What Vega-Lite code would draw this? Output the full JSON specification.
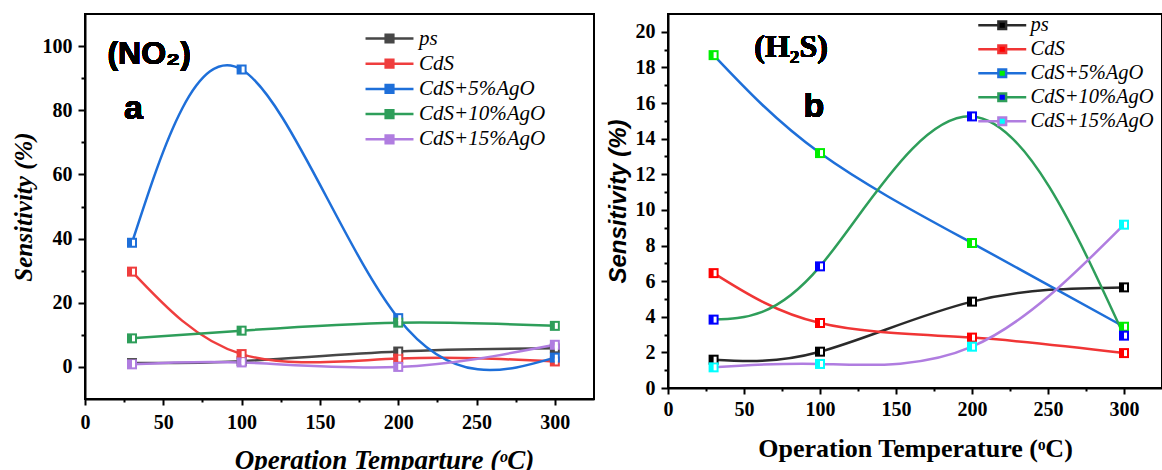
{
  "$schema": "https://vega.github.io/schema/vega-lite/v6.json",
  "background": "white",
  "padding": {"left": 10, "top": 13, "right": 0, "bottom": 0},
  "bounds": "flush",
  "spacing": 74,
  "datasets": {
    "no2": [
      {"temp": 30, "sens": 1.2, "series": "ps"},
      {"temp": 100, "sens": 1.8, "series": "ps"},
      {"temp": 200, "sens": 4.8, "series": "ps"},
      {"temp": 300, "sens": 5.8, "series": "ps"},
      {"temp": 30, "sens": 29.7, "series": "CdS"},
      {"temp": 100, "sens": 4.0, "series": "CdS"},
      {"temp": 200, "sens": 2.6, "series": "CdS"},
      {"temp": 300, "sens": 1.7, "series": "CdS"},
      {"temp": 30, "sens": 38.7, "series": "CdS+5%AgO"},
      {"temp": 100, "sens": 92.7, "series": "CdS+5%AgO"},
      {"temp": 200, "sens": 15.2, "series": "CdS+5%AgO"},
      {"temp": 300, "sens": 2.9, "series": "CdS+5%AgO"},
      {"temp": 30, "sens": 8.9, "series": "CdS+10%AgO"},
      {"temp": 100, "sens": 11.3, "series": "CdS+10%AgO"},
      {"temp": 200, "sens": 13.8, "series": "CdS+10%AgO"},
      {"temp": 300, "sens": 12.8, "series": "CdS+10%AgO"},
      {"temp": 30, "sens": 0.8, "series": "CdS+15%AgO"},
      {"temp": 100, "sens": 1.4, "series": "CdS+15%AgO"},
      {"temp": 200, "sens": 0.0, "series": "CdS+15%AgO"},
      {"temp": 300, "sens": 6.9, "series": "CdS+15%AgO"}
    ],
    "h2s": [
      {"temp": 30, "sens": 1.59, "series": "ps"},
      {"temp": 100, "sens": 2.04, "series": "ps"},
      {"temp": 200, "sens": 4.85, "series": "ps"},
      {"temp": 300, "sens": 5.65, "series": "ps"},
      {"temp": 30, "sens": 6.45, "series": "CdS"},
      {"temp": 100, "sens": 3.65, "series": "CdS"},
      {"temp": 200, "sens": 2.83, "series": "CdS"},
      {"temp": 300, "sens": 1.96, "series": "CdS"},
      {"temp": 30, "sens": 18.69, "series": "CdS+5%AgO"},
      {"temp": 100, "sens": 13.19, "series": "CdS+5%AgO"},
      {"temp": 200, "sens": 8.14, "series": "CdS+5%AgO"},
      {"temp": 300, "sens": 3.44, "series": "CdS+5%AgO"},
      {"temp": 30, "sens": 3.84, "series": "CdS+10%AgO"},
      {"temp": 100, "sens": 6.83, "series": "CdS+10%AgO"},
      {"temp": 200, "sens": 15.25, "series": "CdS+10%AgO"},
      {"temp": 300, "sens": 2.94, "series": "CdS+10%AgO"},
      {"temp": 30, "sens": 1.16, "series": "CdS+15%AgO"},
      {"temp": 100, "sens": 1.35, "series": "CdS+15%AgO"},
      {"temp": 200, "sens": 2.32, "series": "CdS+15%AgO"},
      {"temp": 300, "sens": 9.17, "series": "CdS+15%AgO"}
    ]
  },
  "hconcat": [
    {
      "width": 509,
      "height": 385,
      "data": {"name": "no2"},
      "encoding": {
        "x": {
          "field": "temp", "type": "quantitative",
          "scale": {"domain": [0, 325], "nice": false, "zero": false},
          "axis": {
            "values": [0, 25, 50, 75, 100, 125, 150, 175, 200, 225, 250, 275, 300],
            "labelExpr": "datum.value % 50 === 0 ? datum.label : ''",
            "tickSize": {"condition": {"test": "datum.value % 50 === 0", "value": 6}, "value": 3},
            "labelPadding": 7,
            "labelFlush": false,
            "labelOverlap": false,
            "title": "Operation Temparture (ᵒC)",
            "titleFontStyle": "italic",
            "titleFontSize": 27,
            "titlePadding": 15,
            "titleX": 299
          }
        },
        "y": {
          "field": "sens", "type": "quantitative",
          "scale": {"domain": [-10, 110], "nice": false, "zero": false},
          "axis": {
            "values": [0, 10, 20, 30, 40, 50, 60, 70, 80, 90, 100],
            "labelExpr": "datum.value % 20 === 0 ? datum.label : ''",
            "tickSize": {"condition": {"test": "datum.value % 20 === 0", "value": 7}, "value": 4},
            "labelPadding": 6,
            "labelFlush": false,
            "labelOverlap": false,
            "title": "Sensitivity (%)",
            "titleFontStyle": "italic",
            "titleFontSize": 25,
            "titlePadding": 6
          }
        }
      },
      "layer": [
        {
          "mark": {"type": "line", "interpolate": "natural", "strokeWidth": 2.5},
          "encoding": {
            "stroke": {
              "field": "series", "type": "nominal",
              "scale": {"domain": ["ps", "CdS", "CdS+5%AgO", "CdS+10%AgO", "CdS+15%AgO"], "range": ["#474747", "#ef3e3e", "#1e6fd9", "#2e9e5a", "#b07de0"]},
              "legend": {"title": null, "legendX": 294, "legendY": 14, "labelOffset": 19, "rowPadding": 3.2}
            }
          }
        },
        {
          "mark": {"type": "point", "shape": "square", "filled": true, "size": 100, "strokeWidth": 0, "opacity": 1},
          "encoding": {
            "fill": {
              "field": "series", "type": "nominal",
              "scale": {"domain": ["ps", "CdS", "CdS+5%AgO", "CdS+10%AgO", "CdS+15%AgO"], "range": ["#474747", "#ef3e3e", "#1e6fd9", "#2e9e5a", "#b07de0"]},
              "legend": {"title": null, "legendX": 294, "legendY": 14, "labelOffset": 19, "rowPadding": 3.2}
            }
          }
        },
        {
          "mark": {"type": "point", "shape": "M0,-0.6H0.6V0.6H0Z", "filled": true, "fill": "white", "size": 100, "strokeWidth": 0, "opacity": 1},
          "encoding": {}
        },
        {
          "mark": {"type": "text", "text": "(NO₂)", "font": "Liberation Sans", "fontWeight": "bold", "fontSize": 32, "color": "black"},
          "encoding": {"x": {"datum": 41, "type": "quantitative"}, "y": {"datum": 97.5, "type": "quantitative"}}
        },
        {
          "mark": {"type": "text", "text": "a", "font": "Liberation Sans", "fontWeight": "bold", "fontSize": 34, "color": "black"},
          "encoding": {"x": {"datum": 31, "type": "quantitative"}, "y": {"datum": 80.3, "type": "quantitative"}}
        }
      ]
    },
    {
      "width": 494,
      "height": 374,
      "data": {"name": "h2s"},
      "encoding": {
        "x": {
          "field": "temp", "type": "quantitative",
          "scale": {"domain": [0, 325], "nice": false, "zero": false},
          "axis": {
            "values": [0, 25, 50, 75, 100, 125, 150, 175, 200, 225, 250, 275, 300],
            "labelExpr": "datum.value % 50 === 0 ? datum.label : ''",
            "tickSize": {"condition": {"test": "datum.value % 50 === 0", "value": 6}, "value": 3},
            "labelPadding": 5,
            "labelFlush": false,
            "labelOverlap": false,
            "title": "Operation Temperature (ᵒC)",
            "titleFontSize": 26,
            "titlePadding": 16
          }
        },
        "y": {
          "field": "sens", "type": "quantitative",
          "scale": {"domain": [0, 21], "nice": false, "zero": false},
          "axis": {
            "values": [0, 1, 2, 3, 4, 5, 6, 7, 8, 9, 10, 11, 12, 13, 14, 15, 16, 17, 18, 19, 20],
            "labelExpr": "datum.value % 2 === 0 ? datum.label : ''",
            "tickSize": {"condition": {"test": "datum.value % 2 === 0", "value": 7}, "value": 4},
            "labelPadding": 6,
            "labelFlush": false,
            "labelOverlap": false,
            "title": "Sensitivity (%)",
            "titleFont": "Liberation Sans",
            "titleFontStyle": "italic",
            "titleFontSize": 24,
            "titlePadding": 5
          }
        }
      },
      "layer": [
        {
          "mark": {"type": "line", "interpolate": "natural", "strokeWidth": 2.5},
          "encoding": {
            "stroke": {
              "field": "series", "type": "nominal",
              "scale": {"domain": ["ps", "CdS", "CdS+5%AgO", "CdS+10%AgO", "CdS+15%AgO"], "range": ["#2a2a2a", "#f03535", "#1e6fd9", "#2e9e5a", "#b07de0"]},
              "legend": {"title": null, "legendX": 324, "legendY": 1, "rowPadding": 3, "labelFontSize": 20.5, "labelOffset": 18}
            }
          }
        },
        {
          "mark": {"type": "point", "shape": "square", "filled": true, "size": 100, "strokeWidth": 0, "opacity": 1},
          "encoding": {
            "fill": {
              "field": "series", "type": "nominal",
              "scale": {"domain": ["ps", "CdS", "CdS+5%AgO", "CdS+10%AgO", "CdS+15%AgO"], "range": ["#000000", "#ff0000", "#00ee00", "#0000ff", "#00ffff"]},
              "legend": {"title": null, "legendX": 324, "legendY": 1, "rowPadding": 3, "labelFontSize": 20.5, "labelOffset": 18}
            }
          }
        },
        {
          "mark": {"type": "point", "shape": "M0,-0.6H0.6V0.6H0Z", "filled": true, "fill": "white", "size": 100, "strokeWidth": 0, "opacity": 1},
          "encoding": {}
        },
        {
          "mark": {"type": "text", "text": "(H₂S)", "font": "Liberation Serif", "fontWeight": "bold", "fontSize": 32, "color": "black"},
          "encoding": {"x": {"datum": 81, "type": "quantitative"}, "y": {"datum": 19.15, "type": "quantitative"}}
        },
        {
          "mark": {"type": "text", "text": "b", "font": "Liberation Sans", "fontWeight": "bold", "fontSize": 34, "color": "black"},
          "encoding": {"x": {"datum": 96, "type": "quantitative"}, "y": {"datum": 15.8, "type": "quantitative"}}
        }
      ]
    }
  ],
  "resolve": {
    "scale": {"x": "independent", "y": "independent", "stroke": "independent", "fill": "independent"},
    "legend": {"stroke": "independent", "fill": "independent"}
  },
  "config": {
    "view": {"stroke": "black", "strokeWidth": 2},
    "axis": {
      "grid": false,
      "domainColor": "black",
      "domainWidth": 2,
      "tickColor": "black",
      "tickWidth": 2,
      "labelFont": "Liberation Serif",
      "labelFontWeight": "bold",
      "labelFontSize": 20,
      "labelColor": "black",
      "titleFont": "Liberation Serif",
      "titleFontWeight": "bold",
      "titleColor": "black"
    },
    "legend": {
      "orient": "none",
      "symbolType": "M-5,0H-0.8M0.8,0H5M-0.8,-0.8H0.8V0.8H-0.8Z",
      "symbolSize": 92,
      "symbolStrokeWidth": 2.5,
      "labelFont": "Liberation Serif",
      "labelFontStyle": "italic",
      "labelFontSize": 21,
      "labelColor": "black",
      "labelOffset": 19,
      "rowPadding": 3.5,
      "padding": 0
    }
  }
}
